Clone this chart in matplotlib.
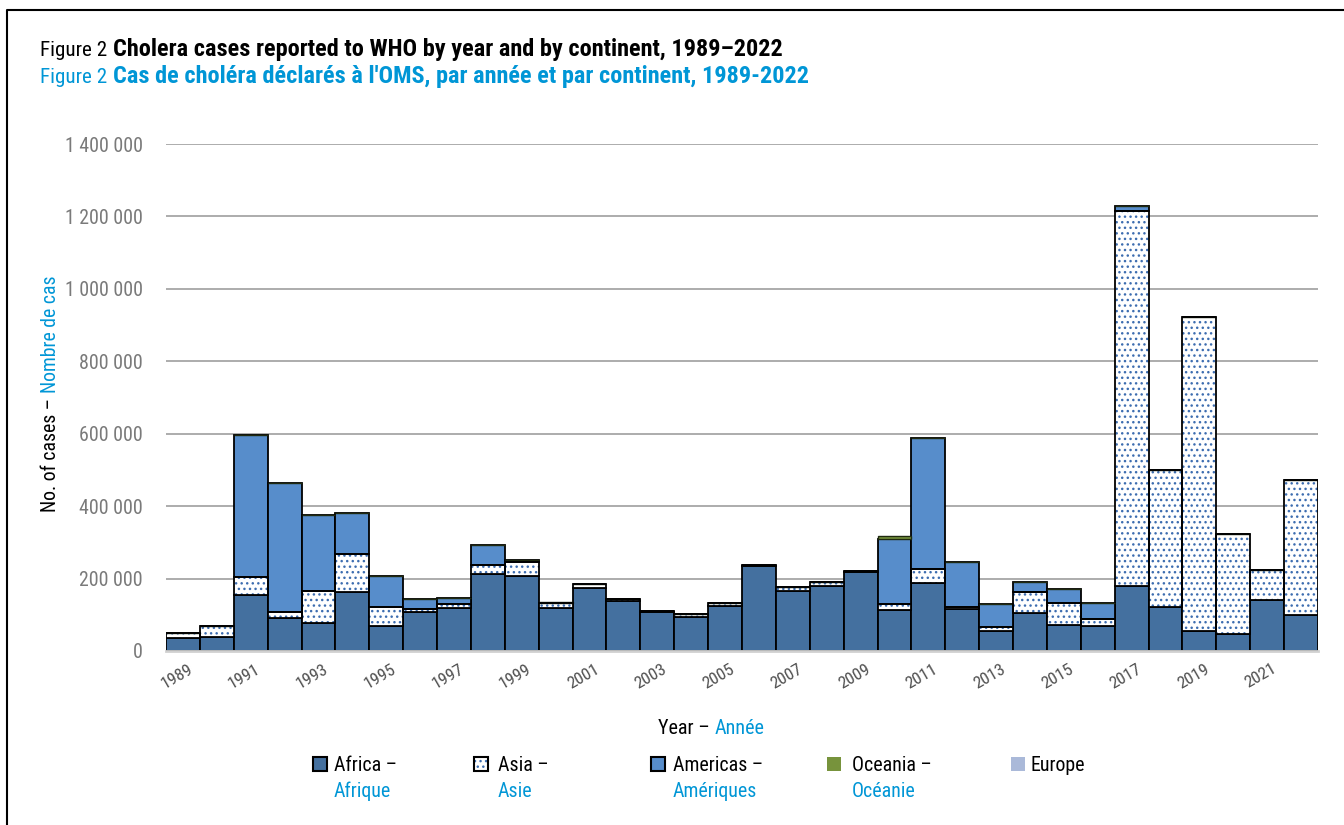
import os
import matplotlib
matplotlib.use('Agg')
import matplotlib.pyplot as plt
from matplotlib.transforms import IdentityTransform
from matplotlib.lines import Line2D
from matplotlib.patches import Rectangle
from matplotlib import font_manager as fm
from matplotlib.font_manager import FontProperties
import numpy as np

# ---------------- data ----------------
years = list(range(1989, 2023))
africa = [35000, 38000, 154000, 90000, 76000, 162000, 70000, 108000, 118000, 212000,
          206000, 119000, 173000, 138000, 108000, 94000, 125000, 234000, 166000, 180000,
          217000, 114000, 188000, 117000, 56000, 104000, 71000, 70000, 180000, 122000,
          55000, 47000, 142000, 100000]
asia = [15000, 32000, 49500, 16800, 90500, 106700, 52400, 8800, 11800, 24600,
        39000, 12600, 11000, 6000, 3500, 7500, 7000, 2500, 11500, 10500,
        4000, 15800, 38700, 5500, 11000, 58000, 62600, 18400, 1034000, 377400,
        867800, 276000, 81800, 372700]
americas = [0, 0, 392000, 356000, 209500, 113300, 85600, 27200, 17400, 56100,
            6000, 1000, 500, 0, 0, 500, 0, 500, 0, 0,
            0, 178600, 361700, 122700, 62700, 27600, 37600, 43300, 14700, 1000,
            300, 0, 0, 0]
oceania = [0, 0, 0, 0, 0, 0, 0, 0, 0, 0,
           1500, 3000, 0, 0, 0, 1500, 0, 1000, 0, 0,
           1000, 9000, 500, 0, 0, 0, 0, 0, 0, 0,
           0, 0, 0, 0]
europe = [0] * 34

labels_en = ["Africa \u2013", "Asia \u2013", "Americas \u2013", "Oceania \u2013", "Europe"]
labels_fr = ["Afrique", "Asie", "Am\u00e9riques", "Oc\u00e9anie", ""]

C_AFR = '#44709f'
C_AME = '#578dcb'
C_OCE = '#77933c'
C_EUR = '#aab9d9'
C_DOT = '#3d6db0'
BLUE = '#0096d6'


# ---------------- font choice (condensed sans if available) ----------------
def pick_fonts():
    groups = {}
    for f in fm.fontManager.ttflist:
        base = os.path.splitext(os.path.basename(f.fname))[0].lower()
        if not any(k in base for k in ('condensed', 'narrow')):
            continue
        if any(k in base for k in ('italic', 'oblique', 'semicond', 'extracond', 'ultracond')):
            continue
        key = f.name
        g = groups.setdefault(key, {})
        stripped = base
        is_bold = stripped.endswith('bold') and not any(
            w in stripped for w in ('semibold', 'extrabold', 'demibold'))
        is_reg = not any(w in stripped for w in (
            'bold', 'light', 'thin', 'medium', 'black', 'heavy', 'semi', 'extra', 'book'))
        if is_bold:
            g['bold'] = f.fname
        elif is_reg:
            g['reg'] = f.fname
    prefs = ['liberation sans narrow', 'roboto', 'noto sans', 'open sans', 'dejavu', 'lato', 'inter']
    best = None
    for p in prefs:
        for k, g in groups.items():
            if p in k.lower() and 'reg' in g and 'bold' in g:
                best = g
                break
        if best:
            break
    if best is None:
        for k, g in groups.items():
            if 'reg' in g and 'bold' in g:
                best = g
                break
    return best


FONTS = pick_fonts()


def fp(bold=False, size=12):
    if FONTS:
        return FontProperties(fname=FONTS['bold' if bold else 'reg'], size=size)
    return FontProperties(family='DejaVu Sans', weight='bold' if bold else 'normal', size=size)


W, H = 1344, 825
fig = plt.figure(figsize=(W / 100, H / 100), dpi=100)
fig.patch.set_facecolor('white')
r = fig.canvas.get_renderer()


def fit_size(s, bold, target, vertical=False):
    t = fig.text(0, 0, s, fontproperties=fp(bold, 20), transform=IdentityTransform())
    bb = t.get_window_extent(renderer=r)
    t.remove()
    return 20 * target / bb.width


# sizes fitted to reference text widths (pixels)
S_FIG = fit_size("Figure 2", False, 67)
S_TITLE = fit_size("Cholera cases reported to WHO by year and by continent, 1989\u20132022", True, 667)
S_LAB = fit_size("Americas \u2013", False, 90)
S_YT = fit_size("1 400 000", False, 78)
S_XT = fit_size("1989", False, 34)
S_YL = fit_size("No. of cases \u2013 Nombre de cas", False, 236)
S_XL = fit_size("Year \u2013 Ann\u00e9e", False, 106)

ax = fig.add_axes([166 / W, 1 - 651 / H, (1318 - 166) / W, (651 - 144) / H])
x = np.arange(len(years))
bottom = np.zeros(len(years))
EW = 1.3

ax.bar(x, africa, 1.0, bottom, color=C_AFR, edgecolor='black', linewidth=EW, zorder=3)
bottom += np.array(africa)
ax.bar(x, asia, 1.0, bottom, color='white', edgecolor=C_DOT, hatch='...', linewidth=0, zorder=3)
ax.bar(x, asia, 1.0, bottom, fill=False, edgecolor='black', linewidth=EW, zorder=4)
bottom += np.array(asia)
ax.bar(x, americas, 1.0, bottom, color=C_AME, edgecolor='black', linewidth=EW, zorder=3)
bottom += np.array(americas)
ax.bar(x, oceania, 1.0, bottom, color=C_OCE, edgecolor='#1f2a10', linewidth=1.0, zorder=3)
bottom += np.array(oceania)
ax.bar(x, europe, 1.0, bottom, color=C_EUR, linewidth=0, zorder=3)

ax.set_xlim(-0.5, len(years) - 0.5)
ax.set_ylim(0, 1400000)
yt = np.arange(0, 1400001, 200000)
ax.set_yticks(yt)
ax.set_yticklabels([f"{v:,}".replace(',', ' ') for v in yt])
ax.yaxis.grid(True, color='#a6a6a6', linewidth=1.3)
ax.set_axisbelow(True)
for s in ['top', 'right', 'left']:
    ax.spines[s].set_visible(False)
ax.spines['bottom'].set_color('#d0d0d0')
ax.spines['bottom'].set_linewidth(2)
ax.spines['bottom'].set_zorder(5)
ax.tick_params(axis='y', length=0, pad=16.5, labelcolor='#7a7a7a')
for t in ax.get_yticklabels():
    t.set_fontproperties(fp(False, S_YT))
ax.set_xticks(x[::2] + 0.25)
ax.set_xticklabels([str(y) for y in years[::2]], rotation=30, ha='right',
                   rotation_mode='anchor')
ax.tick_params(axis='x', length=0, pad=12, labelcolor='#505050')
for t in ax.get_xticklabels():
    t.set_va('center')
    t.set_fontproperties(fp(False, S_XT))


def seq(xpx, ypx, parts, rot=0, center=False):
    """parts: list of (text, fontprops, color, gap_after_px)."""
    ts = []
    lens = []
    for s, prop, col, g in parts:
        t = fig.text(0, 0, s, transform=IdentityTransform(), rotation=rot,
                     rotation_mode='anchor', ha='left', va='baseline',
                     fontproperties=prop, color=col)
        bb = t.get_window_extent(renderer=r)
        ts.append(t)
        lens.append((bb.width if rot == 0 else bb.height) + g)
    total = sum(lens) - parts[-1][3]
    if rot == 0:
        start = xpx - total / 2 if center else xpx
        for t, L in zip(ts, lens):
            t.set_position((start, H - ypx))
            start += L
    else:
        start = ypx + total / 2 if center else ypx
        for t, L in zip(ts, lens):
            t.set_position((xpx, H - start))
            start -= L
    return ts


# titles
seq(40, 56, [("Figure 2", fp(False, S_FIG), 'black', 6),
             ("Cholera cases reported to WHO by year and by continent, 1989\u20132022",
              fp(True, S_TITLE), 'black', 0)])
seq(40, 83, [("Figure 2", fp(False, S_FIG), BLUE, 6),
             ("Cas de chol\u00e9ra d\u00e9clar\u00e9s \u00e0 l'OMS, par ann\u00e9e et par continent, 1989-2022",
              fp(True, S_TITLE), BLUE, 0)])

# axis labels
seq(56, 394, [("No. of cases \u2013", fp(False, S_YL), 'black', 5),
              ("Nombre de cas", fp(False, S_YL), BLUE, 0)], rot=90, center=True)
seq(711, 734, [("Year \u2013", fp(False, S_XL), 'black', 5),
               ("Ann\u00e9e", fp(False, S_XL), BLUE, 0)], center=True)

# legend
leg_px = [313, 474, 651, 827, 1011]
leg_tx = [334, 498, 673, 852, 1031]
for i in range(5):
    px = leg_px[i]
    if i == 0:
        fig.add_artist(Rectangle((px, H - 771), 14, 14, transform=IdentityTransform(),
                                 facecolor=C_AFR, edgecolor='black', linewidth=1.5))
    elif i == 1:
        fig.add_artist(Rectangle((px, H - 771), 14, 14, transform=IdentityTransform(),
                                 facecolor='white', edgecolor=C_DOT, hatch='...', linewidth=0))
        fig.add_artist(Rectangle((px, H - 771), 14, 14, transform=IdentityTransform(),
                                 fill=False, edgecolor='black', linewidth=1.5))
    elif i == 2:
        fig.add_artist(Rectangle((px, H - 771), 14, 14, transform=IdentityTransform(),
                                 facecolor=C_AME, edgecolor='black', linewidth=1.5))
    elif i == 3:
        fig.add_artist(Rectangle((px, H - 771), 14, 14, transform=IdentityTransform(),
                                 facecolor=C_OCE, linewidth=0))
    else:
        fig.add_artist(Rectangle((px, H - 771), 14, 14, transform=IdentityTransform(),
                                 facecolor=C_EUR, linewidth=0))
    fig.text(leg_tx[i], H - 771, labels_en[i], transform=IdentityTransform(),
             fontproperties=fp(False, S_LAB), color='black', ha='left', va='baseline')
    if labels_fr[i]:
        fig.text(leg_tx[i], H - 797, labels_fr[i], transform=IdentityTransform(),
                 fontproperties=fp(False, S_LAB), color=BLUE, ha='left', va='baseline')

# frame (top and left edges visible)
fig.add_artist(Line2D([7, 7, W + 5], [-5, H - 10, H - 10], transform=IdentityTransform(),
                      color='black', linewidth=1.5))

fig.savefig('out.png', dpi=100)
